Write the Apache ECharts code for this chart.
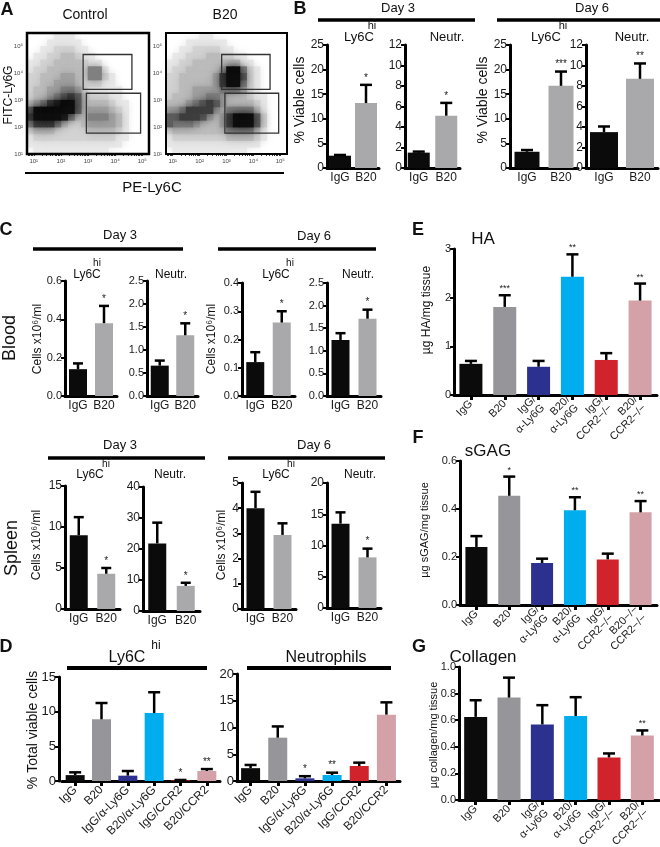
<!DOCTYPE html>
<html><head><meta charset="utf-8">
<script src="https://cdn.jsdelivr.net/npm/echarts@6.0.0/dist/echarts.min.js"></script>
<style>html,body{margin:0;padding:0;background:#fff}#c{width:660px;height:847px}</style>
</head><body><div id="c"></div>
<script>
const FONT = '"Liberation Sans", Arial, Helvetica, sans-serif';

// ---------- Panel A : flow cytometry (log10 decades) ----------
const flowTicks = [1, 2, 3, 4, 5];
const flowTickLabels = ['10¹', '10²', '10³', '10⁴', '10⁵'];
const flowGates = [[2.82, 3.40, 4.62, 4.70], [2.94, 1.78, 4.94, 3.26]];
// density read by eye, 0.25-decade cells, x 0.75..5.25 (cols), y 5.5..1.0 (rows, top first)
const densityControl = [
  "000011100000000000",
  "000111110000000000",
  "001122211000000000",
  "011223321100000000",
  "112233332110000000",
  "122333332551000000",
  "223334432552100000",
  "223344432221100000",
  "233445542111110000",
  "233456763222110000",
  "345789963333211000",
  "699999963444321000",
  "799998533555431000",
  "577753223444431000",
  "233322222333321000",
  "122222222222211000",
  "111111111111110000",
  "011111111111000000"
];
const densityB20 = [
  "000001100000000000",
  "000111111000000000",
  "001122221100000000",
  "011222332211000000",
  "112233333331100000",
  "122333334995210000",
  "223333347996210000",
  "223333347995210000",
  "223344445554210000",
  "233344554333211000",
  "333456764333321000",
  "445777743555531000",
  "667776434799962000",
  "655543334799962000",
  "233333333555531000",
  "122222222333321000",
  "111111111111110000",
  "011111111111000000"
];
const flowShades = ['#ffffff','#e8e8e8','#d3d3d3','#bcbcbc','#a0a0a0','#808080','#5e5e5e','#3e3e3e','#242424','#0e0e0e'];

// ---------- Panel B ----------
const catsB = ['IgG', 'B20'];
const bD3Ly6c = [2.5, 13.2], bD3Ly6cErr = [2.65, 16.9], bD3Ly6cSig = ['', '*'];
const bD3Neu = [1.5, 5.1], bD3NeuErr = [1.6, 6.35], bD3NeuSig = ['', '*'];
const bD6Ly6c = [3.3, 16.7], bD6Ly6cErr = [3.65, 19.6], bD6Ly6cSig = ['', '***'];
const bD6Neu = [3.5, 8.7], bD6NeuErr = [4.05, 10.2], bD6NeuSig = ['', '**'];

// ---------- Panel C ----------
const cBloodD3Ly6c = [0.14, 0.38], cBloodD3Ly6cErr = [0.17, 0.47], cBloodD3Ly6cSig = ['', '*'];
const cBloodD3Neu = [0.66, 1.32], cBloodD3NeuErr = [0.77, 1.58], cBloodD3NeuSig = ['', '*'];
const cBloodD6Ly6c = [0.12, 0.26], cBloodD6Ly6cErr = [0.155, 0.30], cBloodD6Ly6cSig = ['', '*'];
const cBloodD6Neu = [1.24, 1.71], cBloodD6NeuErr = [1.39, 1.91], cBloodD6NeuSig = ['', '*'];
const cSpleenD3Ly6c = [9.0, 4.3], cSpleenD3Ly6cErr = [11.2, 5.0], cSpleenD3Ly6cSig = ['', '*'];
const cSpleenD3Neu = [21.8, 8.1], cSpleenD3NeuErr = [28.5, 9.1], cSpleenD3NeuSig = ['', '*'];
const cSpleenD6Ly6c = [4.0, 2.94], cSpleenD6Ly6cErr = [4.65, 3.4], cSpleenD6Ly6cSig = ['', ''];
const cSpleenD6Neu = [13.5, 8.1], cSpleenD6NeuErr = [15.3, 9.5], cSpleenD6NeuSig = ['', '*'];

// ---------- Panel D ----------
const catsD = ['IgG', 'B20', 'IgG/α-Ly6G', 'B20/α-Ly6G', 'IgG/CCR2', 'B20/CCR2'];
const dLy6c = [0.85, 8.9, 0.77, 9.8, 0.1, 1.44], dLy6cErr = [1.25, 11.25, 1.44, 12.8, 0.15, 1.72], dLy6cSig = ['', '', '', '', '*', '**'];
const dNeu = [2.4, 8.1, 0.5, 1.12, 2.8, 12.4], dNeuErr = [3.0, 10.2, 0.9, 1.56, 3.43, 14.7], dNeuSig = ['', '', '*', '**', '', ''];

// ---------- Panels E, F, G ----------
const catsE = ['IgG', 'B20', 'IgG/\nα-Ly6G', 'B20/\nα-Ly6G', 'IgG/\nCCR2−/−', 'B20/\nCCR2−/−'];
const catsF = ['IgG', 'B20', 'IgG/\nα-Ly6G', 'B20/\nα-Ly6G', 'IgG/\nCCR2−/−', 'B20−/−\nCCR2−/−'];
const catsG = ['IgG', 'B20', 'IgG/\nα-Ly6G', 'B20/\nα-Ly6G', 'IgG/\nCCR2−/−', 'B20/\nCCR2−/−'];
const eHA = [0.64, 1.81, 0.58, 2.43, 0.72, 1.94], eHAErr = [0.70, 2.05, 0.70, 2.89, 0.86, 2.29], eHASig = ['', '***', '', '**', '', '**'];
const fGAG = [0.242, 0.455, 0.175, 0.395, 0.19, 0.386], fGAGErr = [0.287, 0.535, 0.193, 0.449, 0.214, 0.433], fGAGSig = ['', '*', '', '**', '', '**'];
const gCol = [0.625, 0.77, 0.568, 0.632, 0.32, 0.485], gColErr = [0.75, 0.92, 0.713, 0.773, 0.35, 0.523], gColSig = ['', '', '', '', '', '**'];

const colors2 = ['#0b0b0b', '#a9a9ab'];
const colors6 = ['#0b0b0b', '#96969a', '#2c3190', '#00adef', '#d1232b', '#d4a1a8'];

// ---------- builders ----------
const grids = [], xAxes = [], yAxes = [], series = [], graphics = [];
function addGrid(g) {
  grids.push(Object.assign({ containLabel: false, outerBoundsMode: 'none' }, g));
  return grids.length - 1;
}
function errSeries(gi, vals, errs, sigs, capHalf, sigFont) {
  return {
    type: 'custom', xAxisIndex: gi, yAxisIndex: gi, z: 3, silent: true,
    data: vals.map((v, i) => [i, v, errs[i]]),
    encode: { x: 0, y: [1, 2] },
    renderItem: (params, api) => {
      const i = api.value(0);
      const p0 = api.coord([i, api.value(1)]);
      const p1 = api.coord([i, api.value(2)]);
      const ch = [
        { type: 'line', shape: { x1: p0[0], y1: p0[1], x2: p1[0], y2: p1[1] }, style: { stroke: '#000', lineWidth: 2.5 } },
        { type: 'line', shape: { x1: p1[0] - capHalf, y1: p1[1], x2: p1[0] + capHalf, y2: p1[1] }, style: { stroke: '#000', lineWidth: 2.5 } }
      ];
      const s = sigs[params.dataIndex];
      if (s) ch.push({ type: 'text', style: { text: s, x: p1[0], y: p1[1] - 2, align: 'center', verticalAlign: 'bottom', font: sigFont + 'px ' + FONT, fill: '#222' } });
      return { type: 'group', children: ch };
    }
  };
}
function barPlot(o) {
  const gi = addGrid({ left: o.left, top: o.top, width: o.width, height: o.height });
  xAxes.push({
    gridIndex: gi, type: 'category', data: o.cats,
    axisLine: { show: true, lineStyle: { color: '#000', width: 3 } },
    axisTick: { show: !!o.xTick, alignWithLabel: true, length: 5, lineStyle: { color: '#000', width: 3 } },
    axisLabel: { interval: 0, rotate: o.rotate || 0, fontSize: o.xFont || 12, color: '#1a1a1a', fontFamily: FONT, margin: o.xMargin || 4, lineHeight: o.lineHeight || null }
  });
  yAxes.push({
    gridIndex: gi, type: 'value', min: 0, max: o.max, interval: o.interval, offset: o.yOffset || 0,
    axisLine: { show: true, lineStyle: { color: '#000', width: 3 } },
    axisTick: { show: true, length: 4, lineStyle: { color: '#000', width: 2 } },
    splitLine: { show: false },
    axisLabel: { fontSize: o.yFont || 12, color: '#1a1a1a', fontFamily: FONT, margin: 3, formatter: o.fmt }
  });
  series.push({
    type: 'bar', xAxisIndex: gi, yAxisIndex: gi, barWidth: o.barW, silent: true,
    data: o.values.map((v, i) => ({ value: v, itemStyle: { color: o.colors[i] } }))
  });
  series.push(errSeries(gi, o.values, o.errs, o.sigs, o.cap || 6, o.sigFont || 10));
}
const fmt1 = v => v.toFixed(1);

function flowPlot(left, top, w, h, density, bw) {
  const gh = addGrid({ left, top, width: w, height: h });
  const nC = 18, nR = density.length;
  xAxes.push({ gridIndex: gh, type: 'category', data: Array.from({ length: nC }, (_, i) => i), show: false });
  yAxes.push({ gridIndex: gh, type: 'category', data: Array.from({ length: nR }, (_, i) => i), show: false });
  const data = [];
  density.forEach((row, r) => {
    const s = row.padEnd(nC, '0').slice(0, nC);
    for (let c = 0; c < nC; c++) { const v = +s[c]; if (v > 0) data.push([c, nR - 1 - r, v]); }
  });
  data.sort((a, b) => a[2] - b[2]);
  series.push({
    type: 'custom', xAxisIndex: gh, yAxisIndex: gh, data, silent: true, clip: true,
    encode: { x: 0, y: 1 },
    renderItem: (p, api) => {
      const c = api.coord([api.value(0), api.value(1)]);
      const s = api.size([1, 1]);
      const col = flowShades[api.value(2)];
      return { type: 'rect', shape: { x: c[0] - s[0] / 2 - 0.3, y: c[1] - s[1] / 2 - 0.3, width: s[0] + 0.6, height: s[1] + 0.6 },
        style: { fill: col, shadowBlur: 9, shadowColor: col } };
    }
  });
  const gv = addGrid({ left, top, width: w, height: h, show: true, borderColor: '#000', borderWidth: bw, z: 5 });
  const minor = [];
  for (let n = 0; n < 6; n++) for (let k = 1; k < 10; k++) minor.push(n + Math.log10(k));
  const lab = v => flowTickLabels[flowTicks.indexOf(Math.round(v))] || '';
  xAxes.push({
    gridIndex: gv, type: 'value', min: 0.75, max: 5.25, axisLine: { show: false }, splitLine: { show: false },
    axisTick: { show: true, customValues: minor.filter(v => v >= 0.75 && v <= 5.25), length: 2, lineStyle: { color: '#000', width: 0.8 } },
    axisLabel: { customValues: flowTicks, formatter: lab, fontSize: 6, margin: 4, color: '#444', fontFamily: FONT }
  });
  yAxes.push({
    gridIndex: gv, type: 'value', min: 1, max: 5.5, axisLine: { show: false }, splitLine: { show: false },
    axisTick: { show: false },
    axisLabel: { customValues: flowTicks, formatter: lab, fontSize: 6, margin: 4, color: '#444', fontFamily: FONT }
  });
  series.push({
    type: 'custom', xAxisIndex: gv, yAxisIndex: gv, z: 6, silent: true,
    data: flowGates, encode: { x: [0, 2], y: [1, 3] },
    renderItem: (p, api) => {
      const a = api.coord([api.value(0), api.value(1)]);
      const b = api.coord([api.value(2), api.value(3)]);
      return { type: 'rect', shape: { x: a[0], y: b[1], width: b[0] - a[0], height: a[1] - b[1] }, style: { fill: 'none', stroke: '#333', lineWidth: 1.3 } };
    }
  });
}

function txt(text, x, y, size, o) {
  o = o || {};
  graphics.push({
    type: 'text', x, y, rotation: o.rot ? Math.PI / 2 : 0, silent: true,
    style: { text, x: 0, y: 0, font: (o.bold ? 'bold ' : '') + size + 'px ' + FONT, fill: '#111',
      align: 'center', verticalAlign: 'middle', textAlign: 'center', textVerticalAlign: 'middle' }
  });
}
function hline(x1, x2, y, w) {
  graphics.push({ type: 'line', silent: true, shape: { x1, y1: y, x2, y2: y }, style: { stroke: '#000', lineWidth: w || 3.5 } });
}

// ---------- build panels ----------
flowPlot(27, 33, 122, 121, densityControl, 2.5);
flowPlot(166, 33, 121, 121, densityB20, 2);

barPlot({ left: 327, top: 45, width: 52, height: 123, max: 25, interval: 5, cats: catsB, values: bD3Ly6c, errs: bD3Ly6cErr, sigs: bD3Ly6cSig, colors: colors2, barW: 22 });
barPlot({ left: 405, top: 45, width: 55, height: 123, max: 12, interval: 2, cats: catsB, values: bD3Neu, errs: bD3NeuErr, sigs: bD3NeuSig, colors: colors2, barW: 22 });
barPlot({ left: 510, top: 45, width: 68, height: 123, max: 25, interval: 5, cats: catsB, values: bD6Ly6c, errs: bD6Ly6cErr, sigs: bD6Ly6cSig, colors: colors2, barW: 25 });
barPlot({ left: 586, top: 45, width: 72, height: 123, max: 12, interval: 2, cats: catsB, values: bD6Neu, errs: bD6NeuErr, sigs: bD6NeuSig, colors: colors2, barW: 28 });

barPlot({ left: 65, top: 281, width: 52, height: 115, max: 0.6, interval: 0.2, fmt: fmt1, cats: catsB, values: cBloodD3Ly6c, errs: cBloodD3Ly6cErr, sigs: cBloodD3Ly6cSig, colors: colors2, barW: 18, cap: 5, yFont: 11 });
barPlot({ left: 147, top: 281, width: 51, height: 115, max: 2.5, interval: 0.5, fmt: fmt1, cats: catsB, values: cBloodD3Neu, errs: cBloodD3NeuErr, sigs: cBloodD3NeuSig, colors: colors2, barW: 18, cap: 5, yFont: 11 });
barPlot({ left: 242, top: 283, width: 53, height: 113, max: 0.4, interval: 0.1, fmt: fmt1, cats: catsB, values: cBloodD6Ly6c, errs: cBloodD6Ly6cErr, sigs: cBloodD6Ly6cSig, colors: colors2, barW: 18, cap: 5, yFont: 11 });
barPlot({ left: 327, top: 283, width: 54, height: 113, max: 2.5, interval: 0.5, fmt: fmt1, cats: catsB, values: cBloodD6Neu, errs: cBloodD6NeuErr, sigs: cBloodD6NeuSig, colors: colors2, barW: 18, cap: 5, yFont: 11 });

barPlot({ left: 65, top: 486, width: 55, height: 123, max: 15, interval: 5, cats: catsB, values: cSpleenD3Ly6c, errs: cSpleenD3Ly6cErr, sigs: cSpleenD3Ly6cSig, colors: colors2, barW: 18, cap: 5 });
barPlot({ left: 143, top: 487, width: 57, height: 124, max: 40, interval: 10, cats: catsB, values: cSpleenD3Neu, errs: cSpleenD3NeuErr, sigs: cSpleenD3NeuSig, colors: colors2, barW: 18, cap: 5 });
barPlot({ left: 242, top: 483, width: 54, height: 126, max: 5, interval: 1, cats: catsB, values: cSpleenD6Ly6c, errs: cSpleenD6Ly6cErr, sigs: cSpleenD6Ly6cSig, colors: colors2, barW: 18, cap: 5 });
barPlot({ left: 327, top: 483, width: 54, height: 125, max: 20, interval: 5, cats: catsB, values: cSpleenD6Neu, errs: cSpleenD6NeuErr, sigs: cSpleenD6NeuSig, colors: colors2, barW: 18, cap: 5 });

barPlot({ left: 62, top: 677, width: 158, height: 104, max: 15, interval: 5, yOffset: 3, cats: catsD, values: dLy6c, errs: dLy6cErr, sigs: dLy6cSig, colors: colors6, barW: 19, xTick: true, rotate: 45, xFont: 12, xMargin: 7, yFont: 13 });
barPlot({ left: 237, top: 674, width: 163, height: 107, max: 20, interval: 5, cats: catsD, values: dNeu, errs: dNeuErr, sigs: dNeuSig, colors: colors6, barW: 19, xTick: true, rotate: 45, xFont: 12, xMargin: 7, yFont: 13 });

barPlot({ left: 454, top: 249, width: 203, height: 146, max: 3, interval: 1, cats: catsE, values: eHA, errs: eHAErr, sigs: eHASig, colors: colors6, barW: 23, xTick: true, rotate: 45, xFont: 11, xMargin: 7, lineHeight: 12, yFont: 11, sigFont: 9 });
barPlot({ left: 460, top: 461, width: 197, height: 144, max: 0.6, interval: 0.2, fmt: fmt1, cats: catsF, values: fGAG, errs: fGAGErr, sigs: fGAGSig, colors: colors6, barW: 22, xTick: true, rotate: 45, xFont: 11, xMargin: 7, lineHeight: 12, yFont: 11, sigFont: 9 });
barPlot({ left: 459, top: 667, width: 200, height: 133, max: 1.0, interval: 0.2, fmt: fmt1, cats: catsG, values: gCol, errs: gColErr, sigs: gColSig, colors: colors6, barW: 23, xTick: true, rotate: 45, xFont: 11, xMargin: 7, lineHeight: 12, yFont: 11, sigFont: 9 });

// ---------- texts ----------
txt('A', 7, 10, 18, { bold: true });
txt('Control', 85, 15, 14);
txt('B20', 225, 15, 14);
txt('FITC-Ly6G', 9, 95, 12, { rot: true });
hline(25, 284, 173, 2);
txt('PE-Ly6C', 152, 188, 15);

txt('B', 300, 9, 18, { bold: true });
txt('Day 3', 398, 8, 13); hline(318, 475, 20);
txt('Day 6', 592, 8, 13); hline(497, 660, 20);
txt('Ly6C', 359, 37, 13); txt('hi', 372, 26, 11);
txt('Neutr.', 447, 37, 13);
txt('Ly6C', 546, 37, 13); txt('hi', 563, 26, 11);
txt('Neutr.', 632, 37, 13);
txt('% Viable cells', 300, 100, 14, { rot: true });
txt('% Viable cells', 483, 100, 14, { rot: true });

txt('C', 6, 230, 18, { bold: true });
txt('Day 3', 120, 235, 13); hline(33, 183, 249);
txt('Day 6', 314, 236, 13); hline(218, 376, 249);
txt('Ly6C', 87, 275, 12); txt('hi', 97, 263, 10);
txt('Neutr.', 171, 275, 12);
txt('Ly6C', 276, 275, 12); txt('hi', 290, 263, 10);
txt('Neutr.', 358, 275, 12);
txt('Cells x10⁶/ml', 38, 339, 12, { rot: true });
txt('Cells x10⁶/ml', 212, 339, 12, { rot: true });
txt('Blood', 10, 338, 18, { rot: true });

txt('Day 3', 120, 445, 13); hline(48, 205, 458);
txt('Day 6', 314, 445, 13); hline(228, 385, 458);
txt('Ly6C', 90, 475, 12); txt('hi', 106, 464, 10);
txt('Neutr.', 170, 475, 12);
txt('Ly6C', 276, 475, 12); txt('hi', 291, 464, 10);
txt('Neutr.', 360, 475, 12);
txt('Cells x10⁶/ml', 37, 545, 12, { rot: true });
txt('Cells x10⁶/ml', 222, 545, 12, { rot: true });
txt('Spleen', 12, 548, 18, { rot: true });

txt('D', 6, 647, 18, { bold: true });
txt('Ly6C', 127, 658, 16); txt('hi', 156, 646, 12);
hline(67, 207, 668, 4);
txt('Neutrophils', 326, 658, 16);
hline(247, 391, 668, 4);
txt('% Total viable cells', 33, 730, 14, { rot: true });

txt('E', 418, 230, 18, { bold: true });
txt('HA', 483, 239, 17);
txt('µg HA/mg tissue', 427, 310, 12, { rot: true });
txt('F', 418, 438, 18, { bold: true });
txt('sGAG', 488, 451, 17);
txt('µg sGAG/mg tissue', 425, 530, 11, { rot: true });
txt('G', 419, 647, 18, { bold: true });
txt('Collagen', 483, 657, 17);
txt('µg collagen/mg tissue', 434, 735, 11, { rot: true });

const chart = echarts.init(document.getElementById('c'), null, { renderer: 'canvas' });
chart.setOption({
  animation: false,
  backgroundColor: '#fff',
  textStyle: { fontFamily: FONT },
  grid: grids, xAxis: xAxes, yAxis: yAxes, series,
  graphic: graphics
});
</script></body></html>
